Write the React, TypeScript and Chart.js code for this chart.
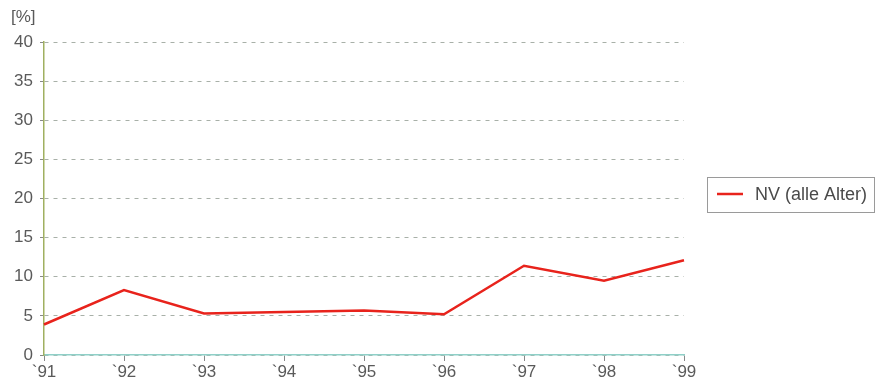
import React, { useEffect, useRef } from "react";
import { Chart, registerables } from "chart.js";

Chart.register(...registerables);

const categories = ["`91", "`92", "`93", "`94", "`95", "`96", "`97", "`98", "`99"];
const seriesNV = [3.9, 8.3, 5.3, 5.5, 5.7, 5.2, 11.4, 9.5, 12.1];
const seriesLabel = "NV (alle Alter)";
const unitLabel = "[%]";

const FONT = "'Liberation Sans', Arial, Helvetica, sans-serif";

const overlayPlugin = {
  id: "overlay",
  afterDraw(chart: any) {
    const ctx = chart.ctx;
    ctx.save();
    // unit label
    ctx.fillStyle = "#5a5a5a";
    ctx.font = `17px ${FONT}`;
    ctx.textAlign = "left";
    ctx.textBaseline = "middle";
    ctx.fillText(unitLabel, 11, 17);
    // legend box
    const bx = 707.5, by = 177.5, bw = 167, bh = 35;
    ctx.fillStyle = "#fff";
    ctx.fillRect(bx, by, bw, bh);
    ctx.strokeStyle = "#9a9a9a";
    ctx.lineWidth = 1;
    ctx.strokeRect(bx, by, bw, bh);
    ctx.strokeStyle = "#e8231c";
    ctx.lineWidth = 2.5;
    ctx.beginPath();
    ctx.moveTo(717, 194);
    ctx.lineTo(743, 194);
    ctx.stroke();
    ctx.fillStyle = "#4a4a4a";
    ctx.font = `18px ${FONT}`;
    ctx.fillText(seriesLabel, 755, 195);
    ctx.restore();
  },
};

export default function App() {
  const ref = useRef<HTMLCanvasElement>(null);
  useEffect(() => {
    if (!ref.current) return;
    const chart = new Chart(ref.current, {
      type: "line",
      data: {
        labels: categories,
        datasets: [
          {
            label: seriesLabel,
            data: seriesNV,
            borderColor: "#e8231c",
            borderWidth: 2.5,
            pointRadius: 0,
            tension: 0,
            fill: false,
          },
        ],
      },
      options: {
        animation: false,
        responsive: false,
        maintainAspectRatio: false,
        layout: { padding: { left: 0, right: 205, top: 42, bottom: 0 } },
        plugins: { legend: { display: false }, tooltip: { enabled: false } },
        scales: {
          x: {
            type: "category",
            offset: false,
            grid: {
              drawOnChartArea: false,
              drawTicks: true,
              tickLength: 6,
              tickColor: "#888",
            },
            border: { display: true, color: "#8fd0c8", width: 1.5 },
            ticks: {
              color: "#5a5a5a",
              font: { family: FONT, size: 17 },
              padding: 1,
              maxRotation: 0,
            },
            afterFit(scale: any) {
              scale.height = 33;
            },
          },
          y: {
            min: 0,
            max: 40,
            grid: {
              color: "#a8b0a8",
              lineWidth: 1,
              drawTicks: true,
              tickLength: 4,
              tickColor: "#888",
            },
            border: { display: true, color: "#a0b060", width: 1.5, dash: [4, 5] },
            ticks: {
              stepSize: 5,
              color: "#5a5a5a",
              font: { family: FONT, size: 17 },
              padding: 7,
            },
            afterFit(scale: any) {
              scale.width = 44;
            },
          },
        },
      },
      plugins: [overlayPlugin],
    } as any);
    return () => chart.destroy();
  }, []);
  return (
    <div style={{ position: "fixed", left: 0, top: 0, width: 889, height: 388, background: "#fff" }}>
      <canvas ref={ref} width={889} height={388} style={{ display: "block" }} />
    </div>
  );
}
